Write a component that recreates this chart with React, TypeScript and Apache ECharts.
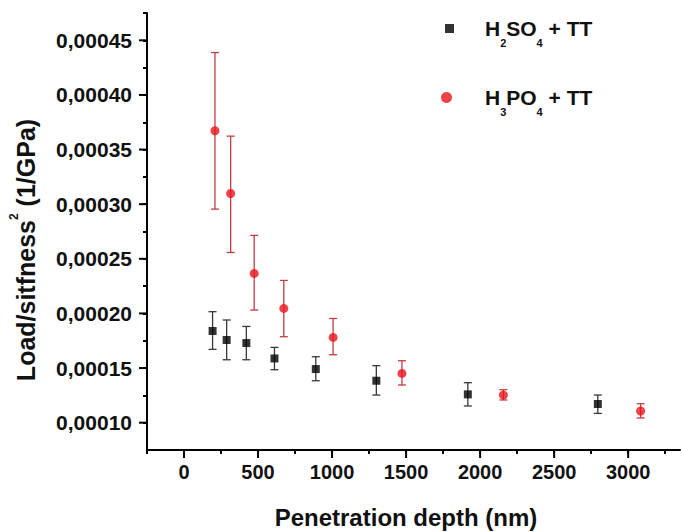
import React, { useEffect, useRef } from "react";
import * as echarts from "echarts";

// ---- data ----
const depthH2SO4 = [193, 288, 421, 611, 890, 1299, 1917, 2795];
const valH2SO4 = [1.839e-4, 1.757e-4, 1.729e-4, 1.588e-4, 1.491e-4, 1.384e-4, 1.259e-4, 1.171e-4];
const lowH2SO4 = [1.671e-4, 1.576e-4, 1.576e-4, 1.485e-4, 1.384e-4, 1.253e-4, 1.153e-4, 1.085e-4];
const highH2SO4 = [2.016e-4, 1.94e-4, 1.881e-4, 1.689e-4, 1.604e-4, 1.522e-4, 1.366e-4, 1.253e-4];

const depthH3PO4 = [209, 315, 474, 674, 1007, 1472, 2157, 3084];
const valH3PO4 = [3.672e-4, 3.098e-4, 2.366e-4, 2.046e-4, 1.78e-4, 1.451e-4, 1.253e-4, 1.107e-4];
const lowH3PO4 = [2.955e-4, 2.558e-4, 2.031e-4, 1.787e-4, 1.622e-4, 1.345e-4, 1.208e-4, 1.043e-4];
const highH3PO4 = [4.388e-4, 3.623e-4, 2.714e-4, 2.302e-4, 1.954e-4, 1.567e-4, 1.302e-4, 1.174e-4];

const xMajorTicks = [0, 500, 1000, 1500, 2000, 2500, 3000];
const xMinorTicks = [-250, 250, 750, 1250, 1750, 2250, 2750, 3250];
const yMajorTicks = [0.0001, 0.00015, 0.0002, 0.00025, 0.0003, 0.00035, 0.0004, 0.00045];
const yMinorTicks = [0.000125, 0.000175, 0.000225, 0.000275, 0.000325, 0.000375, 0.000425, 0.000475];

const seriesNames = ["H2SO4 + TT", "H3PO4 + TT"];

const FONT = "'Liberation Sans', Arial, Helvetica, sans-serif";

export default function App() {
  const ref = useRef<HTMLDivElement>(null);

  useEffect(() => {
    document.body.style.margin = "0";
    if (!ref.current) return;
    const chart = echarts.init(ref.current, undefined, { renderer: "svg" });

    const xMin = -250, xMax = 3350, yMin = 0.000075, yMax = 0.000475;
    const axisLineStyle = { color: "#000", width: 2 };

    const errData = (xs: number[], lo: number[], hi: number[]) =>
      xs.map((x, i) => [x, lo[i], hi[i]]);

    const errSeries = (name: string, data: number[][], color: string) => ({
      type: "custom",
      name,
      xAxisIndex: 0,
      yAxisIndex: 0,
      encode: { x: 0, y: [1, 2] },
      data,
      z: 2,
      renderItem: (params: any, api: any) => {
        const x = api.value(0);
        const pLo = api.coord([x, api.value(1)]);
        const pHi = api.coord([x, api.value(2)]);
        const hw = 4;
        const st = { stroke: color, lineWidth: 1.3 };
        return {
          type: "group",
          children: [
            { type: "line", shape: { x1: pHi[0], y1: pHi[1], x2: pLo[0], y2: pLo[1] }, style: st },
            { type: "line", shape: { x1: pHi[0] - hw, y1: pHi[1], x2: pHi[0] + hw, y2: pHi[1] }, style: st },
            { type: "line", shape: { x1: pLo[0] - hw, y1: pLo[1], x2: pLo[0] + hw, y2: pLo[1] }, style: st },
          ],
        };
      },
    });

    const makeRich = (pad: number) => ({
      pad: { width: pad, fontSize: 10 },
      t: { fontSize: 21, fontWeight: "bold", fontFamily: FONT, color: "#111", lineHeight: 39, verticalAlign: "middle" },
      s: { fontSize: 11, fontWeight: "bold", fontFamily: FONT, color: "#111", lineHeight: 14, verticalAlign: "bottom" },
    });
    const legendFormatter = (name: string) =>
      name === seriesNames[0]
        ? "{pad| }{t|H}{s|2}{t|SO}{s|4}{t| + TT}"
        : "{pad| }{t|H}{s|3}{t|PO}{s|4}{t| + TT}";

    const labelStyle = {
      fontSize: 20,
      fontWeight: "bold",
      fontFamily: FONT,
      color: "#111",
    };

    const allX = [...xMinorTicks, ...xMajorTicks].sort((a, b) => a - b);
    const allY = [...yMinorTicks, ...yMajorTicks].sort((a, b) => a - b);

    const xBase = { type: "value", position: "bottom", offset: 0, min: xMin, max: xMax, splitLine: { show: false } };
    const yBase = { type: "value", position: "left", offset: 0, min: yMin, max: yMax, splitLine: { show: false } };

    const textGraphics: any[] = [
      {
        type: "text",
        x: 406,
        y: 517,
        style: {
          text: "Penetration depth (nm)",
          fontSize: 24,
          fontWeight: "bold",
          fontFamily: FONT,
          fill: "#111",
          textAlign: "center",
          textVerticalAlign: "middle",
        },
      },
      {
        type: "text",
        x: 26,
        y: 250,
        rotation: Math.PI / 2,
        style: {
          text: "{m|Load/sitfness}{p|2}{m| (1/GPa)}",
          textAlign: "center",
          textVerticalAlign: "middle",
          rich: {
            m: { fontSize: 25, fontWeight: "bold", fontFamily: FONT, fill: "#111", color: "#111", lineHeight: 36, verticalAlign: "middle" },
            p: { fontSize: 12, fontWeight: "bold", fontFamily: FONT, fill: "#111", color: "#111", lineHeight: 12, verticalAlign: "top" },
          },
        },
      },
    ];

    const option: any = {
      animation: false,
      backgroundColor: "#fff",
      grid: { left: 147, top: 13, right: 2, bottom: 82 },
      legend: [
        {
          data: [{ name: seriesNames[0], icon: "rect" }],
          left: 445,
          top: 18,
          padding: 0,
          itemWidth: 9,
          itemHeight: 9,
          formatter: legendFormatter,
          textStyle: { rich: makeRich(26) },
          selectedMode: false,
        },
        {
          data: [{ name: seriesNames[1], icon: "circle" }],
          left: 441,
          top: 87,
          padding: 0,
          itemWidth: 11,
          itemHeight: 11,
          formatter: legendFormatter,
          textStyle: { rich: makeRich(28) },
          selectedMode: false,
        },
      ],
      xAxis: [
        {
          ...xBase,
          axisLine: { show: false, onZero: false },
          axisTick: { show: false },
          axisLabel: { ...labelStyle, customValues: xMajorTicks, formatter: (v: number) => String(v), margin: 12 },
        },
        {
          ...xBase,
          axisLine: { show: true, onZero: false, lineStyle: axisLineStyle },
          axisTick: { show: true, length: 4, customValues: allX, lineStyle: axisLineStyle },
          axisLabel: { show: false },
        },
      ],
      yAxis: [
        {
          ...yBase,
          axisLine: { show: false, onZero: false },
          axisTick: { show: false },
          axisLabel: {
            ...labelStyle,
            fontSize: 21,
            customValues: yMajorTicks,
            formatter: (v: number) => v.toFixed(5).replace(".", ","),
            margin: 15,
          },
        },
        {
          ...yBase,
          axisLine: { show: true, onZero: false, lineStyle: axisLineStyle },
          axisTick: { show: true, length: 4, customValues: allY, lineStyle: axisLineStyle },
          axisLabel: { show: false },
        },
      ],
      graphic: textGraphics,
      series: [
        errSeries("errH2SO4", errData(depthH2SO4, lowH2SO4, highH2SO4), "#383838"),
        errSeries("errH3PO4", errData(depthH3PO4, lowH3PO4, highH3PO4), "#c43c44"),
        {
          type: "scatter",
          name: seriesNames[0],
          symbol: "rect",
          symbolSize: 8,
          itemStyle: { color: "#000" },
          data: depthH2SO4.map((x, i) => [x, valH2SO4[i]]),
          z: 3,
        },
        {
          type: "scatter",
          name: seriesNames[1],
          symbol: "circle",
          symbolSize: 9,
          itemStyle: { color: "#e8141c" },
          data: depthH3PO4.map((x, i) => [x, valH3PO4[i]]),
          z: 3,
        },
      ],
    };

    chart.setOption(option);

    // longer major tick marks, positioned through the chart's own axis scales
    const toPx = (x: number, y: number) => chart.convertToPixel("grid", [x, y]) as number[];
    const tickStyle = { stroke: "#000", lineWidth: 2 };
    const tickGraphics: any[] = [];
    xMajorTicks.forEach((v) => {
      const q = toPx(v, yMin);
      if (q && isFinite(q[0])) tickGraphics.push({ type: "line", z: 100, shape: { x1: q[0], y1: q[1], x2: q[0], y2: q[1] + 8 }, style: tickStyle });
    });
    yMajorTicks.forEach((v) => {
      const q = toPx(xMin, v);
      if (q && isFinite(q[0])) tickGraphics.push({ type: "line", z: 100, shape: { x1: q[0], y1: q[1], x2: q[0] - 8, y2: q[1] }, style: tickStyle });
    });
    chart.setOption({ graphic: [...textGraphics, ...tickGraphics] });

    return () => chart.dispose();
  }, []);

  return <div ref={ref} style={{ width: 682, height: 532 }} />;
}
